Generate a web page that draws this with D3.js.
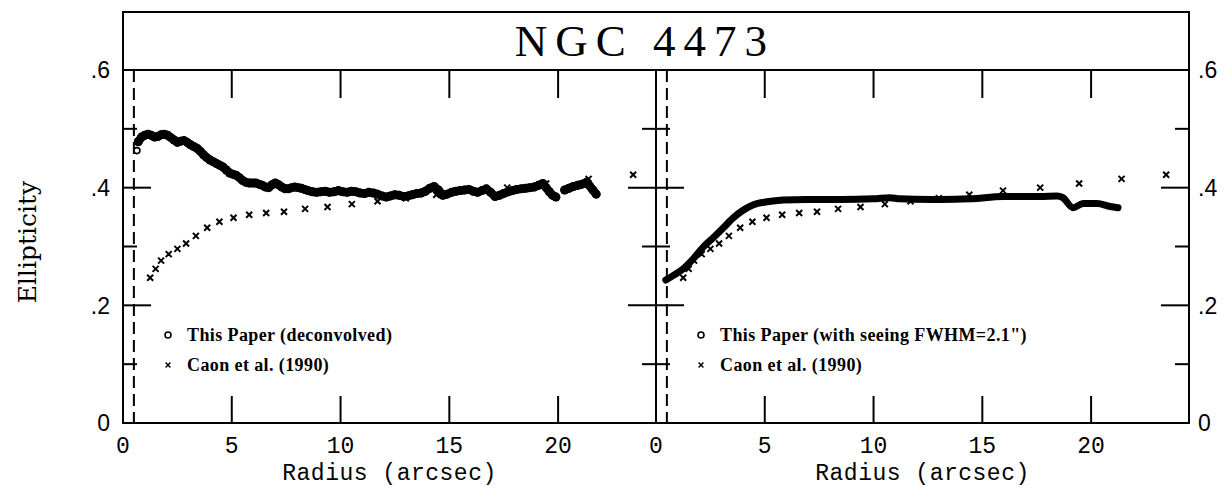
<!DOCTYPE html>
<html>
<head>
<meta charset="utf-8">
<script src="https://cdn.jsdelivr.net/npm/d3@7"></script>
<style>
  body { margin: 0; background: #fff; }
  svg { display: block; }
  .frame { fill: none; stroke: #000; stroke-width: 2; }
  .tick-line { stroke: #000; stroke-width: 2; }
  .xlabel { font-family: "Liberation Mono", monospace; font-size: 23px; }
  .axistitle { font-family: "Liberation Mono", monospace; font-size: 23px; letter-spacing: 0.5px; }
  .ylabel { font-family: "Liberation Sans", sans-serif; font-size: 23px; }
  .legend { font-family: "Liberation Serif", serif; font-weight: bold; font-size: 18px; letter-spacing: 0.4px; }
</style>
</head>
<body>
<div id="chart"></div>
<script>
// radius (arcsec), ellipticity -- deconvolved profile (left panel)
const deconvR = [0.70,0.85,1.0,1.15,1.3,1.45,1.6,1.75,1.9,2.05,2.2,2.35,2.5,2.65,2.8,2.95,3.1,3.25,3.4,3.55,3.7,3.85,4.0,4.15,4.3,4.45,4.6,4.75,4.9,5.05,5.2,5.35,5.5,5.65,5.8,5.95,6.1,6.25,6.4,6.55,6.7,6.85,7.0,7.15,7.3,7.45,7.6,7.75,7.9,8.05,8.2,8.35,8.5,8.7,8.9,9.1,9.3,9.5,9.7,9.9,10.1,10.3,10.5,10.7,10.9,11.1,11.3,11.5,11.7,11.9,12.1,12.3,12.5,12.7,12.9,13.1,13.3,13.5,13.7,13.9,14.1,14.3,14.5,14.7,14.9,15.1,15.3,15.5,15.7,15.9,16.1,16.3,16.5,16.7,16.9,17.1,17.3,17.5,17.7,17.9,18.1,18.3,18.5,18.7,18.9,19.1,19.3,19.45,19.6,19.75,19.9];
const deconvE = [0.478,0.486,0.489,0.491,0.489,0.486,0.487,0.490,0.491,0.489,0.485,0.481,0.477,0.479,0.480,0.477,0.473,0.470,0.467,0.462,0.456,0.451,0.447,0.444,0.441,0.438,0.435,0.430,0.425,0.423,0.421,0.417,0.412,0.409,0.408,0.408,0.408,0.406,0.404,0.401,0.400,0.405,0.408,0.405,0.401,0.398,0.398,0.400,0.401,0.400,0.399,0.397,0.395,0.393,0.392,0.393,0.394,0.392,0.393,0.395,0.393,0.392,0.394,0.393,0.391,0.390,0.392,0.391,0.389,0.386,0.384,0.386,0.388,0.387,0.385,0.386,0.388,0.390,0.391,0.394,0.399,0.402,0.396,0.387,0.389,0.392,0.394,0.395,0.396,0.397,0.394,0.392,0.395,0.398,0.392,0.385,0.387,0.390,0.393,0.395,0.397,0.398,0.399,0.400,0.401,0.404,0.407,0.400,0.393,0.387,0.384];
// outer piece after the gap
const deconvR2 = [20.3,20.5,20.7,20.9,21.1,21.3,21.45,21.6,21.75];
const deconvE2 = [0.396,0.399,0.402,0.404,0.406,0.409,0.403,0.396,0.389];
// first isolated point
const innerR = [0.64];
const innerE = [0.463];

// profile with seeing FWHM=2.1" (right panel)
const seeingR = [0.45,0.8,1.25,1.71,2.17,2.63,3.1,3.56,4.02,4.48,5.1,5.85,6.93,8.47,9.99,10.75,11.2,12.6,13.06,14.44,15.95,17.66,18.44,18.7,19.17,19.63,20.28,20.87,21.24];
const seeingE = [0.243,0.251,0.262,0.279,0.299,0.315,0.332,0.349,0.362,0.371,0.376,0.379,0.380,0.380,0.381,0.383,0.381,0.380,0.380,0.381,0.385,0.385,0.386,0.383,0.366,0.373,0.373,0.368,0.366];

// Caon et al. (1990)
const caonR = [1.25,1.5,1.75,2.1,2.5,2.9,3.35,3.87,4.43,5.08,5.8,6.58,7.4,8.37,9.4,10.52,11.7,13.0,14.4,15.95,17.66,19.45,21.4,23.45];
const caonE = [0.247,0.262,0.276,0.287,0.296,0.305,0.318,0.332,0.342,0.349,0.354,0.357,0.359,0.364,0.367,0.372,0.377,0.382,0.388,0.395,0.400,0.407,0.415,0.422];

const xTicks = [0, 5, 10, 15, 20];
const yMajor = [0, 0.2, 0.4, 0.6];
const yMinor = [0.1, 0.3, 0.5];
const seeingCut = 0.5;

const width = 1224, height = 488;
const margin = ({top: 70, right: 35, bottom: 65, left: 123});
const titleTop = 12;
const mid = (margin.left + width - margin.right) / 2;

const xL = d3.scaleLinear().domain([0, 24.5]).range([margin.left, mid]);
const xR = d3.scaleLinear().domain([0, 24.5]).range([mid, width - margin.right]);
const y = d3.scaleLinear().domain([0, 0.6]).range([height - margin.bottom, margin.top]);

const pts = (R, E) => R.map((r, i) => [r, E[i]]);
const yfmt = d => d === 0 ? "0" : d3.format(".1f")(d).replace("0.", ".");
const cross = "M-3,-3L3,3M-3,3L3,-3";

document.addEventListener("DOMContentLoaded", function() {

  let svg = d3.select("#chart").append('svg').attr('width', width).attr('height', height);

  // frame + title box
  svg.append('rect').attr('class', 'frame')
    .attr('x', margin.left).attr('y', titleTop)
    .attr('width', width - margin.right - margin.left)
    .attr('height', height - margin.bottom - titleTop);
  svg.append('line').attr('class', 'tick-line')
    .attr('x1', margin.left).attr('x2', width - margin.right)
    .attr('y1', margin.top).attr('y2', margin.top);
  svg.append('line').attr('class', 'tick-line')
    .attr('x1', mid).attr('x2', mid)
    .attr('y1', margin.top).attr('y2', height - margin.bottom);

  svg.append('text')
    .attr('x', 645).attr('y', 56)
    .attr('text-anchor', 'middle')
    .style('font-family', '"Liberation Serif", serif')
    .style('font-size', '45px')
    .style('letter-spacing', '8px')
    .text("NGC 4473");

  // y ticks: left, middle (both sides), right
  const yAll = yMajor.concat(yMinor).filter(d => d > 0 && d < 0.6);
  const tlen = d => yMajor.includes(d) ? 28 : 14;
  yAll.forEach(d => {
    svg.append('line').attr('class', 'tick-line')
      .attr('x1', margin.left).attr('x2', margin.left + tlen(d))
      .attr('y1', y(d)).attr('y2', y(d));
    svg.append('line').attr('class', 'tick-line')
      .attr('x1', mid - tlen(d)).attr('x2', mid + tlen(d))
      .attr('y1', y(d)).attr('y2', y(d));
    svg.append('line').attr('class', 'tick-line')
      .attr('x1', width - margin.right - tlen(d)).attr('x2', width - margin.right)
      .attr('y1', y(d)).attr('y2', y(d));
  });
  yMajor.forEach(d => {
    svg.append('text').attr('class', 'ylabel')
      .attr('x', margin.left - 13).attr('y', y(d)).attr('dy', '0.36em')
      .attr('text-anchor', 'end').text(yfmt(d));
    svg.append('text').attr('class', 'ylabel')
      .attr('x', width - margin.right + 9).attr('y', y(d)).attr('dy', '0.36em')
      .attr('text-anchor', 'start').text(yfmt(d));
  });

  // Add an y-axis label.
  svg.append('text')
    .attr('transform', 'rotate(-90)')
    .attr('x', -242)
    .attr('y', 36)
    .attr('text-anchor', 'middle')
    .style('font-family', '"DejaVu Serif", serif')
    .style('font-size', '25px')
    .text("Ellipticity");

  function panel(x, legendText) {
    let g = svg.append('g');

    xTicks.filter(d => d > 0).forEach(d => {
      g.append('line').attr('class', 'tick-line')
        .attr('x1', x(d)).attr('x2', x(d))
        .attr('y1', margin.top).attr('y2', margin.top + 28);
      g.append('line').attr('class', 'tick-line')
        .attr('x1', x(d)).attr('x2', x(d))
        .attr('y1', y(0)).attr('y2', y(0) - 27);
    });
    xTicks.forEach(d => {
      g.append('text').attr('class', 'xlabel')
        .attr('x', x(d)).attr('y', 453)
        .attr('text-anchor', 'middle').text(d);
    });
    // Add an x-axis label.
    g.append('text').attr('class', 'axistitle')
      .attr('x', (x.range()[0] + x.range()[1]) / 2).attr('y', 480)
      .attr('text-anchor', 'middle').text("Radius (arcsec)");

    g.append('line')
      .attr('x1', x(seeingCut)).attr('x2', x(seeingCut))
      .attr('y1', margin.top).attr('y2', y(0))
      .attr('stroke', '#000').attr('stroke-width', 2).attr('stroke-dasharray', '12,6');

    let lx = x.range()[0];
    let leg = g.append('g').attr('transform', `translate(${lx},0)`);
    leg.append('circle').attr('cx', 45).attr('cy', 335).attr('r', 3)
      .attr('fill', 'none').attr('stroke', '#000').attr('stroke-width', 1.6);
    leg.append('text').attr('class', 'legend').attr('x', 64).attr('y', 341).text(legendText);
    leg.append('path').attr('d', cross)
      .attr('stroke', '#000').attr('stroke-width', 1.8).attr('fill', 'none')
      .attr('transform', 'translate(45,365) scale(0.8)');
    leg.append('text').attr('class', 'legend').attr('x', 64).attr('y', 371).text("Caon et al. (1990)");

    g.append('g').selectAll('path')
      .data(pts(caonR, caonE))
      .enter().append('path')
      .attr('d', cross)
      .attr('transform', d => `translate(${x(d[0])},${y(d[1])})`)
      .attr('stroke', '#000').attr('stroke-width', 2).attr('fill', 'none');
    return g;
  }

  // left panel
  let left = panel(xL, "This Paper (deconvolved)");
  const band = d3.line().x(d => xL(d[0])).y(d => y(d[1])).curve(d3.curveLinear);
  [pts(deconvR, deconvE), pts(deconvR2, deconvE2)].forEach(seg => {
    left.append('path').attr('d', band(seg))
      .attr('fill', 'none').attr('stroke', '#000').attr('stroke-width', 8.5)
      .attr('stroke-linejoin', 'round').attr('stroke-linecap', 'round');
    left.append('g').selectAll('circle')
      .data(seg).enter().append('circle')
      .attr('cx', d => xL(d[0])).attr('cy', d => y(d[1])).attr('r', 4.5)
      .attr('fill', '#000');
  });
  left.append('g').selectAll('circle')
    .data(pts(innerR, innerE)).enter().append('circle')
    .attr('cx', d => xL(d[0])).attr('cy', d => y(d[1])).attr('r', 3)
    .attr('fill', '#fff').attr('stroke', '#000').attr('stroke-width', 1.6);

  // right panel
  let right = panel(xR, "This Paper (with seeing FWHM=2.1\")");
  const smooth = d3.line().x(d => xR(d[0])).y(d => y(d[1])).curve(d3.curveMonotoneX);
  right.append('path').attr('d', smooth(pts(seeingR, seeingE)))
    .attr('fill', 'none').attr('stroke', '#000').attr('stroke-width', 7)
    .attr('stroke-linejoin', 'round').attr('stroke-linecap', 'round');
});
</script>
</body>
</html>
